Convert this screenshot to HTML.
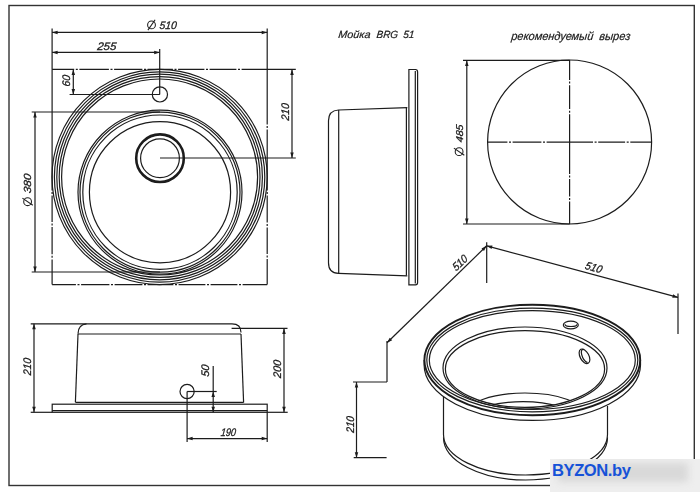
<!DOCTYPE html>
<html><head><meta charset="utf-8"><style>
html,body{margin:0;padding:0;background:#fff;}
body{width:700px;height:492px;overflow:hidden;position:relative;}
svg{position:absolute;left:0;top:0;will-change:transform;}
.wm{position:absolute;left:550px;top:459px;width:150px;height:33px;overflow:hidden;
background:#eeeeee;}
.wm i{position:absolute;left:8px;top:4px;width:130px;height:19px;background:#d9d9d9;filter:blur(3.5px);}
.wm span{position:absolute;left:2px;top:2px;font-family:"Liberation Sans",sans-serif;font-weight:bold;font-size:16.6px;letter-spacing:-0.45px;color:#1652d8;line-height:20px;}
</style></head><body>
<svg width="700" height="492" viewBox="0 0 700 492">
<rect x="9" y="5.5" width="685.3" height="480" fill="none" stroke="#333" stroke-width="1.4"/>
<line x1="52.1" y1="28.5" x2="52.1" y2="69.3" stroke="#1c1c1c" stroke-width="1.2"/>
<line x1="267.2" y1="28.5" x2="267.2" y2="69.3" stroke="#1c1c1c" stroke-width="1.2"/>
<path d="M52.10,69.30L52.10,190.40 M52.10,192.00L52.10,194.00 M52.10,195.60L52.10,221.90 M52.10,223.50L52.10,225.50 M52.10,227.10L52.10,254.20 M52.10,255.80L52.10,257.80 M52.10,259.40L52.10,284.60" stroke="#1c1c1c" stroke-width="1.2" fill="none"/>
<path d="M267.20,69.30L267.20,124.40 M267.20,126.00L267.20,128.00 M267.20,129.60L267.20,190.40 M267.20,192.00L267.20,194.00 M267.20,195.60L267.20,222.40 M267.20,224.00L267.20,226.00 M267.20,227.60L267.20,253.90 M267.20,255.50L267.20,257.50 M267.20,259.10L267.20,284.60" stroke="#1c1c1c" stroke-width="1.2" fill="none"/>
<path d="M52.10,69.30L74.20,69.30 M75.80,69.30L77.80,69.30 M79.40,69.30L108.90,69.30 M110.50,69.30L112.50,69.30 M114.10,69.30L142.40,69.30 M144.00,69.30L146.00,69.30 M147.60,69.30L172.90,69.30 M174.50,69.30L176.50,69.30 M178.10,69.30L204.40,69.30 M206.00,69.30L208.00,69.30 M209.60,69.30L236.40,69.30 M238.00,69.30L240.00,69.30 M241.60,69.30L295.80,69.30" stroke="#1c1c1c" stroke-width="1.2" fill="none"/>
<path d="M52.10,284.60L75.90,284.60 M77.50,284.60L79.50,284.60 M81.10,284.60L109.40,284.60 M111.00,284.60L113.00,284.60 M114.60,284.60L142.40,284.60 M144.00,284.60L146.00,284.60 M147.60,284.60L173.40,284.60 M175.00,284.60L177.00,284.60 M178.60,284.60L205.40,284.60 M207.00,284.60L209.00,284.60 M210.60,284.60L237.40,284.60 M239.00,284.60L241.00,284.60 M242.60,284.60L267.20,284.60" stroke="#1c1c1c" stroke-width="1.2" fill="none"/>
<line x1="52.1" y1="32.4" x2="267.2" y2="32.4" stroke="#1c1c1c" stroke-width="1.2"/>
<path d="M52.10,32.40 L57.60,30.65 L57.60,34.15Z" fill="#1c1c1c"/>
<path d="M267.20,32.40 L261.70,34.15 L261.70,30.65Z" fill="#1c1c1c"/>
<line x1="52.1" y1="52.4" x2="159.7" y2="52.4" stroke="#1c1c1c" stroke-width="1.2"/>
<path d="M52.10,52.40 L57.60,50.65 L57.60,54.15Z" fill="#1c1c1c"/>
<path d="M159.70,52.40 L154.20,54.15 L154.20,50.65Z" fill="#1c1c1c"/>
<line x1="159.7" y1="48.9" x2="159.7" y2="94.4" stroke="#1c1c1c" stroke-width="1.2"/>
<circle cx="159.6" cy="177.0" r="107.6" fill="none" stroke="#1c1c1c" stroke-width="1.2"/>
<circle cx="159.6" cy="177.0" r="105.2" fill="none" stroke="#1c1c1c" stroke-width="1.2"/>
<circle cx="159.6" cy="177.0" r="102.8" fill="none" stroke="#1c1c1c" stroke-width="1.2"/>
<circle cx="159.6" cy="177.0" r="100.4" fill="none" stroke="#1c1c1c" stroke-width="1.2"/>
<circle cx="159.6" cy="177.0" r="98.0" fill="none" stroke="#1c1c1c" stroke-width="1.2"/>
<circle cx="160.0" cy="192.2" r="82" fill="none" stroke="#1c1c1c" stroke-width="1.2"/>
<circle cx="160.0" cy="192.2" r="80" fill="none" stroke="#1c1c1c" stroke-width="1.2"/>
<circle cx="160.0" cy="192.2" r="77.2" fill="none" stroke="#1c1c1c" stroke-width="1.2"/>
<circle cx="160.0" cy="192.2" r="70.6" fill="none" stroke="#1c1c1c" stroke-width="1.2"/>
<circle cx="160.0" cy="158.2" r="23.8" fill="none" stroke="#1c1c1c" stroke-width="2.6"/>
<circle cx="160.0" cy="158.2" r="19.4" fill="none" stroke="#1c1c1c" stroke-width="1.2"/>
<circle cx="159.9" cy="94.4" r="7.6" fill="none" stroke="#1c1c1c" stroke-width="1.2"/>
<line x1="73.3" y1="69.4" x2="73.3" y2="94.5" stroke="#1c1c1c" stroke-width="1.2"/>
<path d="M73.30,69.40 L75.05,74.90 L71.55,74.90Z" fill="#1c1c1c"/>
<path d="M73.30,94.50 L71.55,89.00 L75.05,89.00Z" fill="#1c1c1c"/>
<line x1="69.6" y1="94.5" x2="159.9" y2="94.5" stroke="#1c1c1c" stroke-width="1.2"/>
<line x1="35.0" y1="112.0" x2="35.0" y2="272.0" stroke="#1c1c1c" stroke-width="1.2"/>
<path d="M35.00,112.00 L36.75,117.50 L33.25,117.50Z" fill="#1c1c1c"/>
<path d="M35.00,272.00 L33.25,266.50 L36.75,266.50Z" fill="#1c1c1c"/>
<line x1="31.7" y1="112.0" x2="160.0" y2="112.0" stroke="#1c1c1c" stroke-width="1.2"/>
<line x1="31.7" y1="272.0" x2="160.0" y2="272.0" stroke="#1c1c1c" stroke-width="1.2"/>
<line x1="292.0" y1="69.4" x2="292.0" y2="158.0" stroke="#1c1c1c" stroke-width="1.2"/>
<path d="M292.00,69.40 L293.75,74.90 L290.25,74.90Z" fill="#1c1c1c"/>
<path d="M292.00,158.00 L290.25,152.50 L293.75,152.50Z" fill="#1c1c1c"/>
<line x1="160.0" y1="158.0" x2="295.8" y2="158.0" stroke="#1c1c1c" stroke-width="1.2"/>
<path d="M408.9,284.8 L408.9,69.5 L415.5,69.5 Q417.6,69.5 417.6,72 L417.6,282.5 Q417.6,284.8 415.5,284.8 Z" fill="none" stroke="#1c1c1c" stroke-width="1.2"/>
<line x1="415.3" y1="71" x2="415.3" y2="283.5" stroke="#1c1c1c" stroke-width="1.2"/>
<path d="M407.3,107.6 L338.5,110 Q328.5,110.5 328.5,120.7 L328.5,262.8 Q328.5,273.3 338.5,273.3 L407.3,275.8" fill="none" stroke="#1c1c1c" stroke-width="1.2"/>
<line x1="338.7" y1="110" x2="338.7" y2="273.3" stroke="#1c1c1c" stroke-width="1.2"/>
<line x1="406.4" y1="107.8" x2="406.4" y2="275.6" stroke="#1c1c1c" stroke-width="1.2"/>
<circle cx="569.6" cy="142.0" r="82.0" fill="none" stroke="#1c1c1c" stroke-width="1.2"/>
<path d="M569.60,60.00L569.60,80.00 M569.60,81.60L569.60,83.60 M569.60,85.20L569.60,109.10 M569.60,110.70L569.60,112.70 M569.60,114.30L569.60,173.90 M569.60,175.50L569.60,177.50 M569.60,179.10L569.60,196.40 M569.60,198.00L569.60,200.00 M569.60,201.60L569.60,224.00" stroke="#1c1c1c" stroke-width="1.2" fill="none"/>
<path d="M487.50,142.10L507.40,142.10 M509.00,142.10L511.00,142.10 M512.60,142.10L541.40,142.10 M543.00,142.10L545.00,142.10 M546.60,142.10L593.00,142.10 M594.60,142.10L596.60,142.10 M598.20,142.10L625.10,142.10 M626.70,142.10L628.70,142.10 M630.30,142.10L651.80,142.10" stroke="#1c1c1c" stroke-width="1.2" fill="none"/>
<line x1="463.0" y1="60.4" x2="569.6" y2="60.4" stroke="#1c1c1c" stroke-width="1.2"/>
<line x1="463.0" y1="224.0" x2="569.6" y2="224.0" stroke="#1c1c1c" stroke-width="1.2"/>
<line x1="466.8" y1="60.4" x2="466.8" y2="224.0" stroke="#1c1c1c" stroke-width="1.2"/>
<path d="M466.80,60.40 L468.55,65.90 L465.05,65.90Z" fill="#1c1c1c"/>
<path d="M466.80,224.00 L465.05,218.50 L468.55,218.50Z" fill="#1c1c1c"/>
<path d="M30.7,323.8 L232,323.8 Q241,323.8 241,332.5" fill="none" stroke="#1c1c1c" stroke-width="1.2"/>
<path d="M86.5,323.8 Q78,324.5 78,333.8" fill="none" stroke="#1c1c1c" stroke-width="1.2"/>
<line x1="78" y1="334" x2="241" y2="334" stroke="#1c1c1c" stroke-width="1.2"/>
<line x1="78" y1="334" x2="75.4" y2="402.3" stroke="#1c1c1c" stroke-width="1.2"/>
<line x1="241" y1="334" x2="243.6" y2="402.5" stroke="#1c1c1c" stroke-width="1.2"/>
<line x1="75.4" y1="402.3" x2="243.6" y2="402.3" stroke="#1c1c1c" stroke-width="1.2"/>
<rect x="52.2" y="404.2" width="215" height="8.1" fill="none" stroke="#1c1c1c" stroke-width="1.2"/>
<line x1="52.2" y1="410.6" x2="267.2" y2="410.6" stroke="#1c1c1c" stroke-width="1.2"/>
<line x1="34.0" y1="323.8" x2="34.0" y2="412.3" stroke="#1c1c1c" stroke-width="1.2"/>
<path d="M34.00,323.80 L35.75,329.30 L32.25,329.30Z" fill="#1c1c1c"/>
<path d="M34.00,412.30 L32.25,406.80 L35.75,406.80Z" fill="#1c1c1c"/>
<line x1="30.7" y1="412.3" x2="52.2" y2="412.3" stroke="#1c1c1c" stroke-width="1.2"/>
<line x1="284.0" y1="328.4" x2="284.0" y2="412.3" stroke="#1c1c1c" stroke-width="1.2"/>
<path d="M284.00,328.40 L285.75,333.90 L282.25,333.90Z" fill="#1c1c1c"/>
<path d="M284.00,412.30 L282.25,406.80 L285.75,406.80Z" fill="#1c1c1c"/>
<line x1="231.6" y1="328.4" x2="287.5" y2="328.4" stroke="#1c1c1c" stroke-width="1.2"/>
<line x1="267.2" y1="412.3" x2="287.7" y2="412.3" stroke="#1c1c1c" stroke-width="1.2"/>
<circle cx="187.1" cy="391.5" r="7.1" fill="none" stroke="#1c1c1c" stroke-width="1.2"/>
<line x1="187.1" y1="391.5" x2="216.7" y2="391.5" stroke="#1c1c1c" stroke-width="1.2"/>
<line x1="187.1" y1="391.5" x2="187.1" y2="442" stroke="#1c1c1c" stroke-width="1.2"/>
<line x1="267.2" y1="412.3" x2="267.2" y2="442" stroke="#1c1c1c" stroke-width="1.2"/>
<line x1="213.2" y1="366" x2="213.2" y2="412.3" stroke="#1c1c1c" stroke-width="1.2"/>
<path d="M213.20,391.50 L214.95,397.00 L211.45,397.00Z" fill="#1c1c1c"/>
<path d="M213.20,412.30 L211.45,406.80 L214.95,406.80Z" fill="#1c1c1c"/>
<line x1="187.1" y1="438.6" x2="267.2" y2="438.6" stroke="#1c1c1c" stroke-width="1.2"/>
<path d="M187.10,438.60 L192.60,436.85 L192.60,440.35Z" fill="#1c1c1c"/>
<path d="M267.20,438.60 L261.70,440.35 L261.70,436.85Z" fill="#1c1c1c"/>
<line x1="486.7" y1="242.3" x2="486.7" y2="283" stroke="#1c1c1c" stroke-width="1.2"/>
<line x1="486.7" y1="245.8" x2="387" y2="342.8" stroke="#1c1c1c" stroke-width="1.2"/>
<path d="M486.70,245.80 L483.98,250.89 L481.54,248.38Z" fill="#1c1c1c"/>
<path d="M387.00,342.80 L389.72,337.71 L392.16,340.22Z" fill="#1c1c1c"/>
<line x1="387" y1="341" x2="387" y2="382" stroke="#1c1c1c" stroke-width="1.2"/>
<line x1="353" y1="382" x2="387" y2="382" stroke="#1c1c1c" stroke-width="1.2"/>
<line x1="486.7" y1="245.8" x2="678" y2="297.4" stroke="#1c1c1c" stroke-width="1.2"/>
<path d="M486.70,245.80 L492.47,245.54 L491.55,248.92Z" fill="#1c1c1c"/>
<path d="M678.00,297.40 L672.23,297.66 L673.15,294.28Z" fill="#1c1c1c"/>
<line x1="678" y1="293.5" x2="678" y2="334" stroke="#1c1c1c" stroke-width="1.2"/>
<line x1="356.5" y1="382" x2="356.5" y2="457.7" stroke="#1c1c1c" stroke-width="1.2"/>
<path d="M356.50,382.00 L358.25,387.50 L354.75,387.50Z" fill="#1c1c1c"/>
<path d="M356.50,457.70 L354.75,452.20 L358.25,452.20Z" fill="#1c1c1c"/>
<line x1="353.7" y1="457.7" x2="386.6" y2="457.7" stroke="#1c1c1c" stroke-width="1.2"/>
<clipPath id="co"><ellipse cx="525" cy="368" rx="81" ry="40"/></clipPath>
<g clip-path="url(#co)">
<ellipse cx="525" cy="415" rx="60" ry="22" fill="none" stroke="#1c1c1c" stroke-width="1.2"/>
<ellipse cx="523" cy="418" rx="50" ry="16.4" fill="none" stroke="#1c1c1c" stroke-width="1.2"/>
</g>
<ellipse cx="532.3" cy="360" rx="107.9" ry="55.2" fill="none" stroke="#1c1c1c" stroke-width="1.9"/>
<ellipse cx="532.3" cy="360" rx="105.5" ry="51.8" fill="none" stroke="#1c1c1c" stroke-width="1.2"/>
<ellipse cx="532.3" cy="360" rx="103.0" ry="49.4" fill="none" stroke="#1c1c1c" stroke-width="1.2"/>
<path d="M424.1,360 L424.1,365 A108.2,55.5 0 0 0 640.5,365 L640.5,360" fill="none" stroke="#1c1c1c" stroke-width="1.2"/>
<ellipse cx="525" cy="368" rx="82" ry="41" fill="none" stroke="#1c1c1c" stroke-width="1.2"/>
<ellipse cx="525" cy="369" rx="79.6" ry="38.4" fill="none" stroke="#1c1c1c" stroke-width="1.2"/>
<ellipse cx="570.8" cy="325" rx="7.5" ry="3.8" fill="none" stroke="#1c1c1c" stroke-width="1.2"/>
<path d="M565,324.2 A6,2.3 0 0 0 577,324.2" fill="none" stroke="#1c1c1c" stroke-width="1.2"/>
<ellipse cx="584.5" cy="356.3" rx="4.4" ry="7.9" fill="none" stroke="#1c1c1c" stroke-width="1.2" transform="rotate(-28 584.5 356.3)"/>
<path d="M584.2,349.6 A3.2,7.2 -28 0 0 587.5,362.6" fill="none" stroke="#1c1c1c" stroke-width="1.2"/>
<path d="M443.5,397 L443.5,434.5 A82,40.5 0 0 0 607.5,434.5 L607.5,406" fill="none" stroke="#1c1c1c" stroke-width="1.2"/>
<path d="M443.5,437.5 A82,42.5 0 0 0 607.5,437.5" fill="none" stroke="#1c1c1c" stroke-width="1.2"/>
<g font-family="Liberation Sans, sans-serif" font-style="italic" fill="#1a1a1a" stroke="#1a1a1a" stroke-width="0.3">
<text x="97" y="49.7" font-size="11" textLength="19.00" lengthAdjust="spacingAndGlyphs" transform="translate(97 49.7) skewX(-6) translate(-97 -49.7)">255</text>
<text x="159.3" y="29.3" font-size="11" textLength="17.10" lengthAdjust="spacingAndGlyphs" transform="translate(159.3 29.3) skewX(-6) translate(-159.3 -29.3)">510</text>
<text x="70.4" y="86.8" font-size="11" textLength="11.40" lengthAdjust="spacingAndGlyphs" transform="rotate(-90 70.4 86.8) translate(70.4 86.8) skewX(-6) translate(-70.4 -86.8)">60</text>
<text x="30.6" y="193.5" font-size="10.3" textLength="19.50" lengthAdjust="spacingAndGlyphs" transform="rotate(-90 30.6 193.5) translate(30.6 193.5) skewX(-6) translate(-30.6 -193.5)">380</text>
<text x="289" y="120.8" font-size="11" textLength="17.20" lengthAdjust="spacingAndGlyphs" transform="rotate(-90 289 120.8) translate(289 120.8) skewX(-6) translate(-289 -120.8)">210</text>
<g stroke-width="0.2">
<text x="338.1" y="37.8" font-size="10.4" textLength="32.10" lengthAdjust="spacingAndGlyphs" transform="translate(338.1 37.8) skewX(-6) translate(-338.1 -37.8)">Мойка</text>
<text x="376.3" y="37.8" font-size="10.4" textLength="21.40" lengthAdjust="spacingAndGlyphs" transform="translate(376.3 37.8) skewX(-6) translate(-376.3 -37.8)">BRG</text>
<text x="402.9" y="37.8" font-size="10.4" textLength="11.10" lengthAdjust="spacingAndGlyphs" transform="translate(402.9 37.8) skewX(-6) translate(-402.9 -37.8)">51</text>
<text x="511" y="40" font-size="11.6" textLength="82.00" lengthAdjust="spacingAndGlyphs" transform="translate(511 40) skewX(-6) translate(-511 -40)">рекомендуемый</text>
<text x="599" y="40" font-size="11.6" textLength="31.00" lengthAdjust="spacingAndGlyphs" transform="translate(599 40) skewX(-6) translate(-599 -40)">вырез</text>
</g>
<text x="463.3" y="142.4" font-size="10" textLength="17.60" lengthAdjust="spacingAndGlyphs" transform="rotate(-90 463.3 142.4) translate(463.3 142.4) skewX(-6) translate(-463.3 -142.4)">485</text>
<text x="30.7" y="375.4" font-size="11" textLength="17.10" lengthAdjust="spacingAndGlyphs" transform="rotate(-90 30.7 375.4) translate(30.7 375.4) skewX(-6) translate(-30.7 -375.4)">210</text>
<text x="280.9" y="378.2" font-size="11" textLength="17.90" lengthAdjust="spacingAndGlyphs" transform="rotate(-90 280.9 378.2) translate(280.9 378.2) skewX(-6) translate(-280.9 -378.2)">200</text>
<text x="208.8" y="377.1" font-size="11" textLength="12.20" lengthAdjust="spacingAndGlyphs" transform="rotate(-90 208.8 377.1) translate(208.8 377.1) skewX(-6) translate(-208.8 -377.1)">50</text>
<text x="220.4" y="435.7" font-size="11" textLength="15.30" lengthAdjust="spacingAndGlyphs" transform="translate(220.4 435.7) skewX(-6) translate(-220.4 -435.7)">190</text>
<text x="459.8" y="262.5" font-size="11" text-anchor="middle" dominant-baseline="central" transform="rotate(-44 459.8 262.5) translate(459.8 262.5) skewX(-6) translate(-459.8 -262.5)" textLength="17" lengthAdjust="spacingAndGlyphs">510</text>
<text x="594" y="267.3" font-size="11" text-anchor="middle" dominant-baseline="central" transform="rotate(15 594 267.3) translate(594 267.3) skewX(-6) translate(-594 -267.3)" textLength="17" lengthAdjust="spacingAndGlyphs">510</text>
<text x="353.7" y="433" font-size="11" textLength="16.40" lengthAdjust="spacingAndGlyphs" transform="rotate(-90 353.7 433) translate(353.7 433) skewX(-6) translate(-353.7 -433)">210</text>
</g>
<g transform="rotate(0 151.5 24.9)" fill="none" stroke="#1e1e1e" stroke-width="1.05"><circle cx="151.5" cy="24.9" r="3.9"/><line x1="147.9" y1="30.099999999999998" x2="155.1" y2="19.7"/></g>
<g transform="rotate(-90 27.6 201.7)" fill="none" stroke="#1e1e1e" stroke-width="1.05"><circle cx="27.6" cy="201.7" r="3.9"/><line x1="24.0" y1="206.89999999999998" x2="31.200000000000003" y2="196.5"/></g>
<g transform="rotate(-90 459.1 151.7)" fill="none" stroke="#1e1e1e" stroke-width="1.05"><circle cx="459.1" cy="151.7" r="3.9"/><line x1="455.5" y1="156.89999999999998" x2="462.70000000000005" y2="146.5"/></g>
</svg>
<div class="wm"><i></i><span>BYZON.by</span></div>
</body></html>
